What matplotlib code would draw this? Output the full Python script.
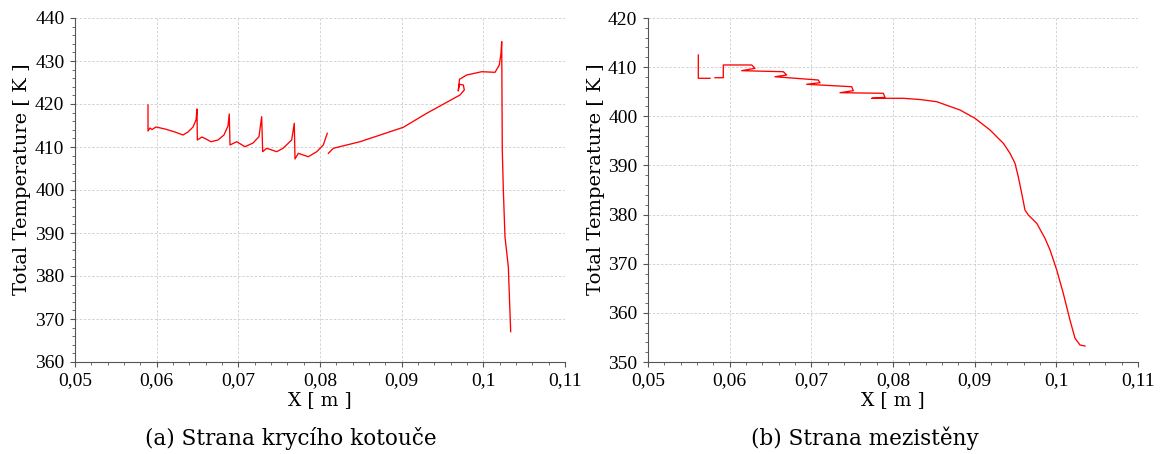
import numpy as np
import matplotlib
matplotlib.use("Agg")
import matplotlib.pyplot as plt
from matplotlib.ticker import MultipleLocator, FuncFormatter

nan = np.nan

# (a) Strana krycího kotouče
xa = [0.05894, 0.05894, 0.05918, 0.05943, 0.05992, 0.06102, 0.06224, 0.06322, 0.06384, 0.06445, 0.06482, 0.06494,
      0.06498, 0.06555, 0.06604, 0.06665, 0.06751, 0.06824, 0.06873, 0.06889,
      0.06898, 0.06980, 0.07082, 0.07180, 0.07253, 0.07286,
      0.07298, 0.07347, 0.07470, 0.07547, 0.07653, 0.07685,
      0.07694, 0.07734, 0.07857, 0.07960, 0.08040, 0.08089, nan,
      0.08102, 0.08163, 0.08490, 0.09020, 0.09307, 0.09714, 0.09767, 0.09755, 0.09706, 0.09693,
      0.09708, 0.09796, 0.09980, 0.10143, 0.10196, 0.10216, 0.10225, 0.10232, 0.10245, 0.10265, 0.10306, 0.10335]
ya = [419.77, 413.72, 414.42, 414.07, 414.65, 414.19, 413.49, 412.79, 413.49, 414.65, 416.28, 418.84,
      411.63, 412.33, 411.86, 411.23, 411.63, 412.79, 414.88, 417.67,
      410.47, 411.23, 410.07, 410.93, 412.40, 417.05,
      408.91, 409.70, 408.91, 409.70, 411.63, 415.51,
      407.21, 408.53, 407.74, 408.91, 410.47, 413.19, nan,
      408.53, 409.70, 411.23, 414.58, 417.84, 422.09, 423.26, 424.42, 424.58, 423.02,
      425.74, 426.74, 427.51, 427.37, 429.07, 431.79, 434.49, 409.30, 400.00, 389.14, 382.16, 367.05]

# (b) Strana mezistěny
xb = [0.05616, 0.05616, 0.05759, nan, 0.05820, 0.05922, 0.05922, 0.06270, 0.06310, 0.06147,
      0.06657, 0.06698, 0.06555, 0.07085, 0.07106, 0.06943, 0.07494, 0.07514, 0.07351,
      0.07881, 0.07902, 0.07739, 0.08126, 0.08331, 0.08535, 0.08820, 0.09004, 0.09188,
      0.09351, 0.09433, 0.09494, 0.09534, 0.09576, 0.09616, 0.09657, 0.09760, 0.09861,
      0.09923, 0.10005, 0.10085, 0.10167, 0.10229, 0.10290, 0.10351]
yb = [412.47, 407.73, 407.73, nan, 407.85, 407.85, 410.44, 410.44, 409.76, 409.28,
      409.07, 408.40, 408.05, 407.38, 406.83, 406.51, 406.02, 405.21, 404.80,
      404.68, 403.86, 403.66, 403.66, 403.41, 402.97, 401.28, 399.59, 397.21,
      394.50, 392.47, 390.43, 387.70, 384.33, 380.93, 379.91, 378.22, 375.17,
      372.79, 368.72, 363.98, 358.54, 354.82, 353.46, 353.25]

xticks = [0.05, 0.06, 0.07, 0.08, 0.09, 0.10, 0.11]
captions = ["(a) Strana krycího kotouče", "(b) Strana mezistěny"]
ylims = [(360, 440), (350, 420)]

plt.rcParams['font.family'] = ['Liberation Serif', 'DejaVu Serif']
label_font = ['DejaVu Serif']

fig = plt.figure(figsize=(11.65, 4.54), dpi=100)
axes = [fig.add_axes([75/1165, 92/454, 490/1165, 344/454]),
        fig.add_axes([648/1165, 92/454, 490/1165, 344/454])]
cap_x = [291/1165, 865/1165]
ylab_x = [-0.090, -0.088]

def fmt(v, pos):
    s = ('%.2f' % v).rstrip('0')
    if s.endswith('.'):
        s = s[:-1]
    return s.replace('.', ',')

for ax, xs, ys, yl, cap, cx, lx in zip(axes, [xa, xb], [ya, yb], ylims, captions, cap_x, ylab_x):
    ax.plot(xs, ys, color='#ff0000', lw=0.95)
    ax.set_xlim(0.05, 0.11)
    ax.set_ylim(*yl)
    ax.set_xticks(xticks)
    ax.xaxis.set_major_formatter(FuncFormatter(fmt))
    ax.yaxis.set_major_locator(MultipleLocator(10))
    ax.xaxis.set_minor_locator(MultipleLocator(0.002))
    ax.yaxis.set_minor_locator(MultipleLocator(2))
    for s in ['top', 'right']:
        ax.spines[s].set_visible(False)
    for s in ['left', 'bottom']:
        ax.spines[s].set_color('#555555')
        ax.spines[s].set_linewidth(0.8)
    ax.tick_params(which='major', length=3.6, width=0.8, color='#555555', labelsize=14, pad=4)
    ax.tick_params(which='minor', length=2, width=0.6, color='#555555')
    ax.grid(True, which='major', color='#cccccc', linestyle=(0, (3, 2)), linewidth=0.6)
    ax.set_xlabel('X [ m ]', fontsize=13.5, labelpad=1, family=label_font)
    ax.set_ylabel('Total Temperature [ K ]', fontsize=14.0, family=label_font)
    ax.yaxis.set_label_coords(lx, 0.532)
    fig.text(cx, 16 / 454, cap, ha='center', va='center',
             fontsize=15.5, family=label_font)

fig.savefig('out.png', dpi=100)
